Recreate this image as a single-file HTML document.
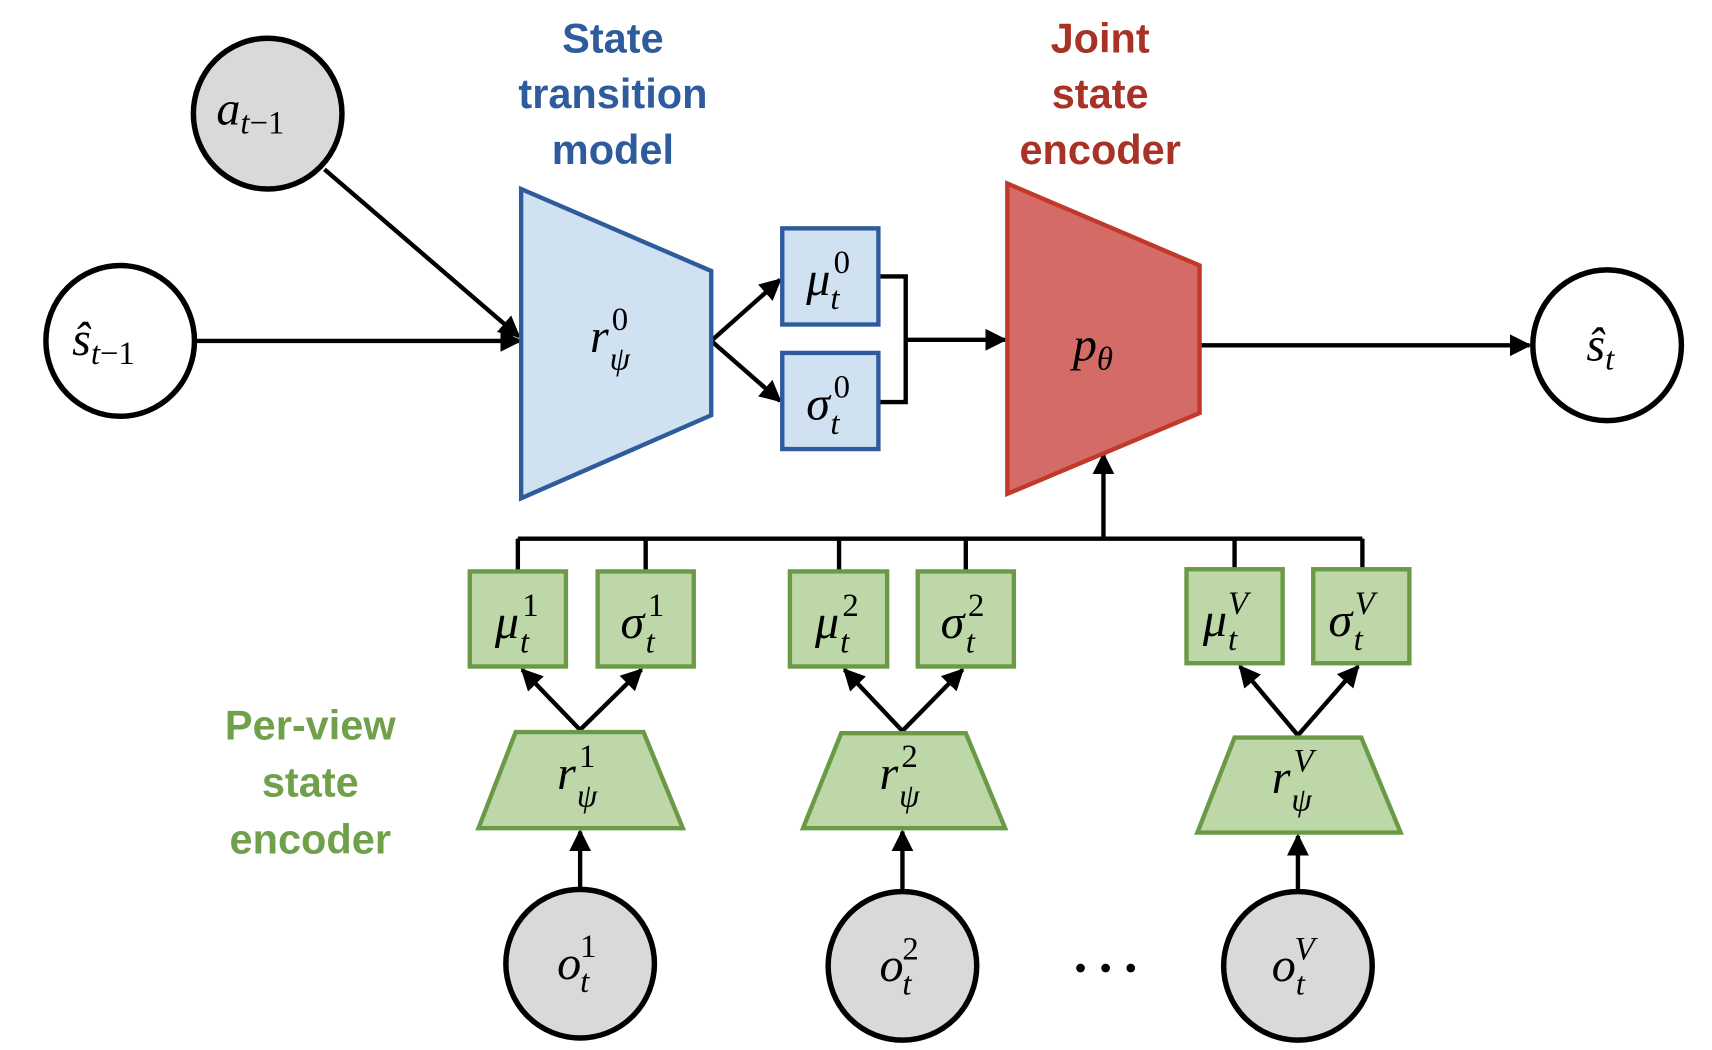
<!DOCTYPE html>
<html><head><meta charset="utf-8"><style>
html,body{margin:0;padding:0;background:#fff;}
svg{display:block;}
.lab{font-family:"Liberation Sans",sans-serif;font-weight:bold;font-size:38px;text-anchor:middle;}
.m{font-family:"Liberation Serif",serif;font-style:italic;font-size:44px;}
.s{font-size:30px;}
.n{font-style:normal;}
</style></head><body>
<svg width="1712" height="1050" viewBox="0 0 1567 961" preserveAspectRatio="none" xmlns="http://www.w3.org/2000/svg">
<defs>
<marker id="ar" viewBox="0 0 10 10" refX="9" refY="5" markerWidth="5" markerHeight="5" orient="auto"><path d="M0,0 L10,5 L0,10 z" fill="#000"/></marker>
</defs>
<g stroke="#000" stroke-width="4" fill="none">
<line x1="178" y1="312" x2="476" y2="312" marker-end="url(#ar)"/>
<line x1="297" y1="155" x2="475" y2="308" marker-end="url(#ar)"/>
<line x1="651" y1="312" x2="714" y2="256" marker-end="url(#ar)"/>
<line x1="651" y1="312" x2="714" y2="367" marker-end="url(#ar)"/>
<polyline points="804,253 829,253 829,368 804,368"/>
<line x1="829" y1="311" x2="920" y2="311" marker-end="url(#ar)"/>
<line x1="1098" y1="316" x2="1400" y2="316" marker-end="url(#ar)"/>
<line x1="474" y1="493" x2="1247" y2="493"/>
<line x1="1010" y1="493" x2="1010" y2="416" marker-end="url(#ar)"/>
<line x1="474" y1="493" x2="474" y2="523"/><line x1="591" y1="493" x2="591" y2="523"/>
<line x1="768" y1="493" x2="768" y2="523"/><line x1="884" y1="493" x2="884" y2="523"/>
<line x1="1130" y1="493" x2="1130" y2="521"/><line x1="1247" y1="493" x2="1247" y2="521"/>
<line x1="531" y1="668" x2="478" y2="613" marker-end="url(#ar)"/><line x1="531" y1="668" x2="587" y2="613" marker-end="url(#ar)"/>
<line x1="826" y1="669" x2="773" y2="613" marker-end="url(#ar)"/><line x1="826" y1="669" x2="881" y2="613" marker-end="url(#ar)"/>
<line x1="1188" y1="673" x2="1135" y2="610" marker-end="url(#ar)"/><line x1="1188" y1="673" x2="1243" y2="610" marker-end="url(#ar)"/>
<line x1="531" y1="813" x2="531" y2="761" marker-end="url(#ar)"/>
<line x1="826" y1="815" x2="826" y2="761" marker-end="url(#ar)"/>
<line x1="1188" y1="815" x2="1188" y2="765" marker-end="url(#ar)"/>
</g>
<g stroke="#000" stroke-width="5">
<ellipse cx="245" cy="104" rx="68" ry="69" fill="#d9d9d9"/>
<ellipse cx="110" cy="312" rx="68" ry="69" fill="#fff"/>
<ellipse cx="1471" cy="316" rx="68" ry="69" fill="#fff"/>
<ellipse cx="531" cy="882" rx="68" ry="68" fill="#d9d9d9"/>
<ellipse cx="826" cy="884" rx="68" ry="68" fill="#d9d9d9"/>
<ellipse cx="1188" cy="884" rx="68" ry="68" fill="#d9d9d9"/>
</g>
<polygon points="477,173 651,248 651,380 477,456" fill="#d0e1f2" stroke="#2e5b9b" stroke-width="4"/>
<rect x="716" y="209" width="88" height="88" fill="#d0e1f2" stroke="#2e5b9b" stroke-width="4"/>
<rect x="716" y="323" width="88" height="88" fill="#d0e1f2" stroke="#2e5b9b" stroke-width="4"/>
<polygon points="922,168 1098,243 1098,378 922,452" fill="#d46b66" stroke="#c0392b" stroke-width="4"/>
<g fill="#bdd7a8" stroke="#6a9a45" stroke-width="4">
<rect x="430" y="523" width="88" height="87"/><rect x="547" y="523" width="88" height="87"/>
<rect x="723" y="523" width="89" height="87"/><rect x="840" y="523" width="88" height="87"/>
<rect x="1086" y="521" width="88" height="86"/><rect x="1202" y="521" width="88" height="86"/>
<polygon points="472,670 589,670 625,758 438,758"/>
<polygon points="770,671 884,671 920,758 735,758"/>
<polygon points="1130,675 1246,675 1282,762 1096,762"/>
</g>
<text class="lab" fill="#2e5b9b"><tspan x="561" y="48">State</tspan><tspan x="561" y="99">transition</tspan><tspan x="561" y="150">model</tspan></text>
<text class="lab" fill="#a93226"><tspan x="1007" y="48">Joint</tspan><tspan x="1007" y="99">state</tspan><tspan x="1007" y="150">encoder</tspan></text>
<text class="lab" fill="#70a04a"><tspan x="284" y="677">Per-view</tspan><tspan x="284" y="729">state</tspan><tspan x="284" y="781">encoder</tspan></text>
<g class="m" fill="#000">
<text x="198" y="114">a<tspan class="s" dy="8">t</tspan><tspan class="s n">−1</tspan></text>
<text x="66" y="325">ŝ<tspan class="s" dy="8">t</tspan><tspan class="s n">−1</tspan></text>
<text x="1452" y="330">ŝ<tspan class="s" dy="8">t</tspan></text>
<text x="540" y="322">r</text><text class="s" x="560" y="302"><tspan class="n">0</tspan></text><text class="s" x="558" y="338">ψ</text>
<text x="738" y="270">μ</text><text class="s" x="763" y="250"><tspan class="n">0</tspan></text><text class="s" x="760" y="283">t</text>
<text x="738" y="384">σ</text><text class="s" x="763" y="364"><tspan class="n">0</tspan></text><text class="s" x="760" y="397">t</text>
<text x="982" y="330">p<tspan class="s" dy="8">θ</tspan></text>
<text x="453" y="584">μ</text><text class="s" x="478" y="564"><tspan class="n">1</tspan></text><text class="s" x="476" y="597">t</text>
<text x="568" y="584">σ</text><text class="s" x="593" y="564"><tspan class="n">1</tspan></text><text class="s" x="591" y="597">t</text>
<text x="746" y="584">μ</text><text class="s" x="771" y="564"><tspan class="n">2</tspan></text><text class="s" x="769" y="597">t</text>
<text x="861" y="584">σ</text><text class="s" x="886" y="564"><tspan class="n">2</tspan></text><text class="s" x="884" y="597">t</text>
<text x="1101" y="582">μ</text><text class="s" x="1124" y="562">V</text><text class="s" x="1124" y="595">t</text>
<text x="1216" y="582">σ</text><text class="s" x="1240" y="562">V</text><text class="s" x="1239" y="595">t</text>
<text x="510" y="722">r</text><text class="s" x="530" y="702"><tspan class="n">1</tspan></text><text class="s" x="528" y="738">ψ</text>
<text x="805" y="722">r</text><text class="s" x="825" y="702"><tspan class="n">2</tspan></text><text class="s" x="823" y="738">ψ</text>
<text x="1164" y="726">r</text><text class="s" x="1184" y="706">V</text><text class="s" x="1182" y="742">ψ</text>
<text x="510" y="896">o</text><text class="s" x="531" y="876"><tspan class="n">1</tspan></text><text class="s" x="531" y="908">t</text>
<text x="805" y="898">o</text><text class="s" x="826" y="878"><tspan class="n">2</tspan></text><text class="s" x="826" y="910">t</text>
<text x="1164" y="898">o</text><text class="s" x="1185" y="878">V</text><text class="s" x="1186" y="910">t</text>
</g>
<g fill="#000"><circle cx="989" cy="886" r="4"/><circle cx="1012" cy="886" r="4"/><circle cx="1035" cy="886" r="4"/></g>
</svg>
</body></html>
